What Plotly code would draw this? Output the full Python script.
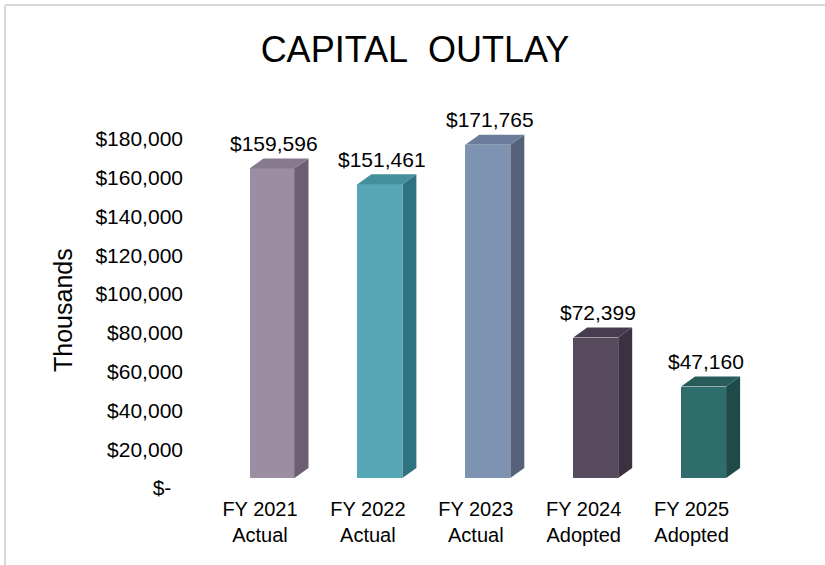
import plotly.graph_objects as go

# ---- data ----
categories = ["FY 2021<br>Actual", "FY 2022<br>Actual", "FY 2023<br>Actual",
              "FY 2024<br>Adopted", "FY 2025<br>Adopted"]
values = [159596, 151461, 171765, 72399, 47160]
value_labels = ["$159,596", "$151,461", "$171,765", "$72,399", "$47,160"]
tick_values = [0, 20000, 40000, 60000, 80000, 100000, 120000, 140000, 160000, 180000]
tick_labels = ["$-\u00a0\u00a0", "$20,000", "$40,000", "$60,000", "$80,000", "$100,000",
               "$120,000", "$140,000", "$160,000", "$180,000"]
front_colors = ["#9c8da2", "#55a7b5", "#7e92b1", "#564a5c", "#2e6d6b"]
side_colors = ["#6b6071", "#2f7380", "#566279", "#3b3141", "#1e4b4a"]
top_colors = ["#877a8e", "#45909d", "#6a7d9a", "#483d4e", "#275c5b"]

# ---- geometry (pixels) ----
W, H = 825, 565
plot_left, plot_right = 190, 800
plot_top, plot_bottom = 110, 495
first_center_px = 272.0
cat_px = 107.9
px_per_unit = 38.8 / 20000.0
bar_zero_px = 478.0
tick_zero_px = 488.0
bar_w_px = 45.0
depth_x_px = 14.0
depth_y_px = 10.0

x_range = [(plot_left - first_center_px) / cat_px, (plot_right - first_center_px) / cat_px]
y1_range = [-(plot_bottom - bar_zero_px) / px_per_unit, (bar_zero_px - plot_top) / px_per_unit]
y2_range = [-(plot_bottom - tick_zero_px) / px_per_unit, (tick_zero_px - plot_top) / px_per_unit]

bw = bar_w_px / cat_px
dx = depth_x_px / cat_px
dy = depth_y_px / px_per_unit

FONT = "Arial, 'Liberation Sans', sans-serif"

fig = go.Figure()
xs = list(range(len(values)))

# side and top faces
for i, v in enumerate(values):
    r = i + bw / 2
    l = i - bw / 2
    fig.add_trace(go.Scatter(
        x=[r, r + dx, r + dx, r, r], y=[0, dy, v + dy, v, 0],
        fill="toself", fillcolor=side_colors[i], mode="lines",
        line=dict(width=0, color=side_colors[i]), hoverinfo="skip", showlegend=False))
    fig.add_trace(go.Scatter(
        x=[l, l + dx, r + dx, r, l], y=[v, v + dy, v + dy, v, v],
        fill="toself", fillcolor=top_colors[i], mode="lines",
        line=dict(width=0, color=top_colors[i]), hoverinfo="skip", showlegend=False))

# front faces
fig.add_trace(go.Bar(
    x=xs, y=values, width=bw, marker=dict(color=front_colors, line=dict(width=0)),
    hoverinfo="skip", showlegend=False))

# invisible trace for the tick axis
fig.add_trace(go.Scatter(x=[0], y=[0], yaxis="y2", mode="markers",
                         marker=dict(opacity=0), hoverinfo="skip", showlegend=False))

# data labels
for i, v in enumerate(values):
    fig.add_annotation(x=i + 2 / cat_px, y=v, text=value_labels[i], showarrow=False,
                       yshift=25, yanchor="middle", xanchor="center",
                       font=dict(family=FONT, size=21, color="#000000"))

fig.add_annotation(text="Thousands", textangle=-90, showarrow=False,
                   xref="paper", yref="paper",
                   x=(63 - plot_left) / (plot_right - plot_left),
                   y=(plot_bottom - 310) / (plot_bottom - plot_top),
                   xanchor="center", yanchor="middle",
                   font=dict(family=FONT, size=25, color="#000000"))

# frame lines
fx = lambda p: (p - plot_left) / (plot_right - plot_left)
fy = lambda p: (plot_bottom - p) / (plot_bottom - plot_top)
fig.add_shape(type="line", xref="paper", yref="paper", x0=fx(5), x1=fx(825), y0=fy(5), y1=fy(5),
              line=dict(color="#d9d9d9", width=2))
fig.add_shape(type="line", xref="paper", yref="paper", x0=fx(5), x1=fx(5), y0=fy(5), y1=fy(565),
              line=dict(color="#d9d9d9", width=2))

fig.update_layout(
    width=W, height=H,
    margin=dict(l=plot_left, r=W - plot_right, t=plot_top, b=H - plot_bottom, pad=0),
    paper_bgcolor="white", plot_bgcolor="white",
    title=dict(text="CAPITAL\u00a0\u00a0OUTLAY", x=415 / W, xanchor="center",
               y=1 - 49 / H, yanchor="middle", yref="container",
               font=dict(family=FONT, size=36, color="#000000")),
    xaxis=dict(range=x_range, tickmode="array",
               tickvals=[i - 12 / cat_px for i in xs], ticktext=categories,
               showgrid=False, zeroline=False, showline=False, ticks="",
               tickfont=dict(family=FONT, size=20, color="#000000")),
    yaxis=dict(range=y1_range, showgrid=False, zeroline=False, showline=False,
               showticklabels=False, ticks=""),
    yaxis2=dict(range=y2_range, overlaying="y", side="left", tickmode="array",
                tickvals=tick_values, ticktext=tick_labels, ticklabelstandoff=6,
                showgrid=False, zeroline=False, showline=False, ticks="",
                tickfont=dict(family=FONT, size=21, color="#000000")),
    bargap=0,
)

fig.write_html("out.html", config={"displayModeBar": False},
               post_script="document.body.style.margin='0px';document.body.style.overflow='hidden';")
